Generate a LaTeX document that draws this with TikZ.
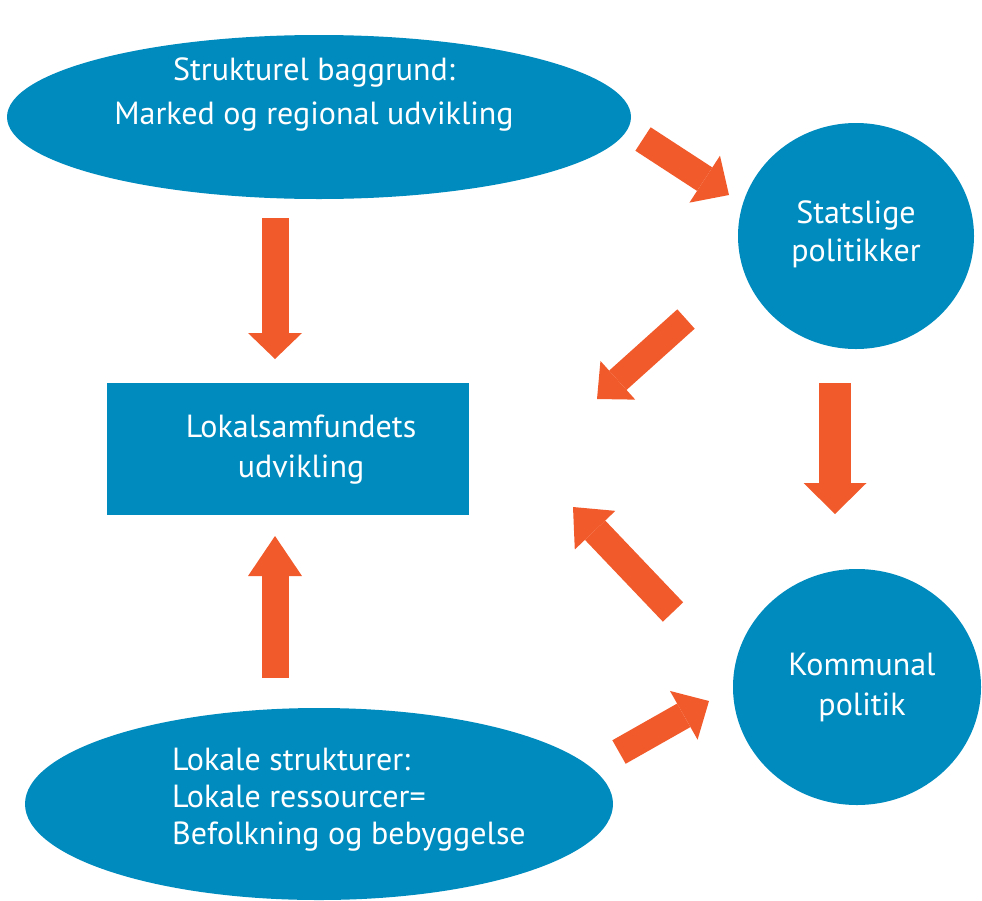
\documentclass[tikz,border=0pt]{standalone}
\usepackage{fontspec}
\setmainfont{PT Sans}
\usetikzlibrary{shapes.geometric,arrows.meta}
\definecolor{blobblue}{HTML}{008BBE}
\definecolor{arroworange}{HTML}{F15A2B}
\tikzset{
    blob/.style={ellipse,fill=blobblue,inner sep=0pt},
    boxnode/.style={rectangle,fill=blobblue,inner sep=0pt},
    txt/.style={text=white,align=center,inner sep=0pt,font=\fontsize{32}{39}\selectfont},
    flow/.style n args={3}{draw=arroworange,line width=#1,
        -{Triangle[length=#2,width=#3,line width=0pt]}}
}

\begin{document}
\begin{tikzpicture}[x=1pt,y=-1pt]
    \useasboundingbox (0,0) rectangle (982,900);

    \node[blob,minimum width=624pt,minimum height=164pt] (struktur) at (319,117) {};
    \node[blob,minimum width=236pt,minimum height=226pt] (stat) at (856,236) {};
    \node[boxnode,minimum width=362pt,minimum height=132pt] (lokal) at (288,449) {};
    \node[blob,minimum width=248pt,minimum height=236pt] (kommune) at (857,687) {};
    \node[blob,minimum width=588pt,minimum height=192pt] (ressource) at (319,804) {};

    \node[txt,font=\fontsize{32}{44}\selectfont] (struktur-txt) at (314,94)
        {Strukturel baggrund:\\Marked og regional udvikling};
    \node[txt,font=\fontsize{32}{38}\selectfont] (stat-txt) at (856,234) {Statslige\\politikker};
    \node[txt,font=\fontsize{32}{40}\selectfont] (lokal-txt) at (301,450) {Lokalsamfundets\\udvikling};
    \node[txt,font=\fontsize{32}{40}\selectfont] (kommune-txt) at (862,687) {Kommunal\\politik};
    \node[txt,align=left,anchor=west,font=\fontsize{32}{37}\selectfont] (ressource-txt) at (172,800)
        {Lokale strukturer:\\Lokale ressourcer=\\Befolkning og bebyggelse};

    \coordinate (s1) at (275,218); \coordinate (e1) at (275,359);
    \coordinate (s2) at (643,139); \coordinate (e2) at (729,195);
    \coordinate (s3) at (686,319); \coordinate (e3) at (597,399);
    \coordinate (s4) at (835,383); \coordinate (e4) at (835,514);
    \coordinate (s5) at (673,612); \coordinate (e5) at (573,507);
    \coordinate (s6) at (619,752); \coordinate (e6) at (709,701);
    \coordinate (s7) at (275,678); \coordinate (e7) at (275,536);

    \draw[flow={27pt}{26pt}{54pt}] (s1) -- (e1);
    \draw[flow={28pt}{29pt}{56pt}] (s2) -- (e2);
    \draw[flow={26pt}{28pt}{52pt}] (s3) -- (e3);
    \draw[flow={32pt}{31pt}{63pt}] (s4) -- (e4);
    \draw[flow={28pt}{32pt}{56pt}] (s5) -- (e5);
    \draw[flow={27pt}{29pt}{56pt}] (s6) -- (e6);
    \draw[flow={27pt}{40pt}{54pt}] (s7) -- (e7);
\end{tikzpicture}
\end{document}
